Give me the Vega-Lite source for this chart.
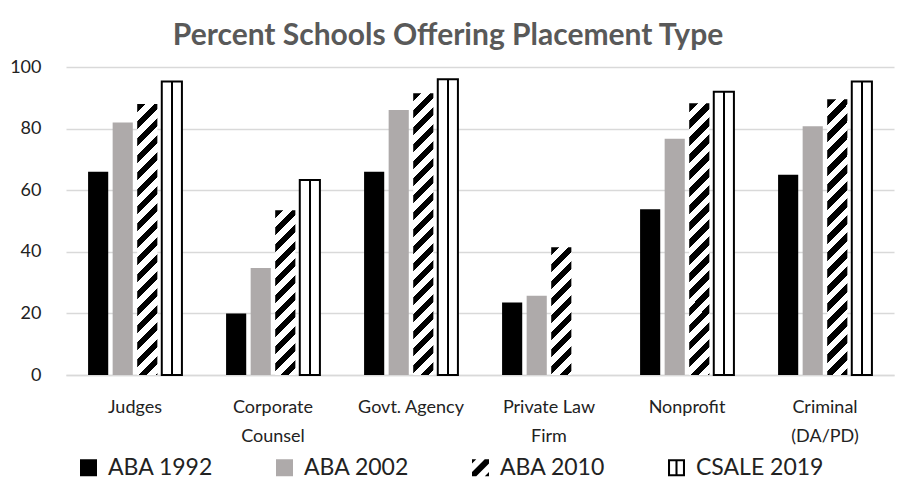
{
  "$schema": "https://vega.github.io/schema/vega-lite/v6.json",
  "width": 828,
  "height": 308,
  "autosize": {"type": "none"},
  "padding": {"left": 66, "top": 67, "right": 3, "bottom": 113},
  "background": "white",
  "config": {"view": {"stroke": null}, "font": "Lato"},
  "title": {"text": "Percent Schools Offering Placement Type", "font": "Lato", "fontSize": 30, "fontWeight": "bold", "color": "#595959", "anchor": "middle", "dx": -32, "offset": 7},
  "data": {"values": [
    {"cat": "Judges", "series": "ABA 1992", "v": 66},
    {"cat": "Judges", "series": "ABA 2002", "v": 82},
    {"cat": "Judges", "series": "ABA 2010", "v": 88},
    {"cat": "Judges", "series": "CSALE 2019", "v": 95.3},
    {"cat": "Corporate Counsel", "series": "ABA 1992", "v": 20},
    {"cat": "Corporate Counsel", "series": "ABA 2002", "v": 34.7},
    {"cat": "Corporate Counsel", "series": "ABA 2010", "v": 53.5},
    {"cat": "Corporate Counsel", "series": "CSALE 2019", "v": 63.3},
    {"cat": "Govt. Agency", "series": "ABA 1992", "v": 66},
    {"cat": "Govt. Agency", "series": "ABA 2002", "v": 86},
    {"cat": "Govt. Agency", "series": "ABA 2010", "v": 91.5},
    {"cat": "Govt. Agency", "series": "CSALE 2019", "v": 96},
    {"cat": "Private Law Firm", "series": "ABA 1992", "v": 23.5},
    {"cat": "Private Law Firm", "series": "ABA 2002", "v": 25.7},
    {"cat": "Private Law Firm", "series": "ABA 2010", "v": 41.5},
    {"cat": "Nonprofit", "series": "ABA 1992", "v": 53.8},
    {"cat": "Nonprofit", "series": "ABA 2002", "v": 76.7},
    {"cat": "Nonprofit", "series": "ABA 2010", "v": 88.2},
    {"cat": "Nonprofit", "series": "CSALE 2019", "v": 92},
    {"cat": "Criminal (DA/PD)", "series": "ABA 1992", "v": 65},
    {"cat": "Criminal (DA/PD)", "series": "ABA 2002", "v": 80.8},
    {"cat": "Criminal (DA/PD)", "series": "ABA 2010", "v": 89.5},
    {"cat": "Criminal (DA/PD)", "series": "CSALE 2019", "v": 95.3}
  ]},
  "encoding": {
    "x": {"field": "cat", "type": "nominal",
      "sort": ["Judges", "Corporate Counsel", "Govt. Agency", "Private Law Firm", "Nonprofit", "Criminal (DA/PD)"],
      "scale": {"paddingInner": 0.32, "paddingOuter": 0.16},
      "axis": {"title": null, "ticks": false, "domainColor": "#d9d9d9", "domainWidth": 1.3, "labelAngle": 0, "labelFont": "Lato", "labelFontSize": 18, "labelColor": "#222222", "labelPadding": 23, "labelLineHeight": 29,
        "labelExpr": "datum.label == 'Corporate Counsel' ? ['Corporate', 'Counsel'] : datum.label == 'Private Law Firm' ? ['Private Law', 'Firm'] : datum.label == 'Criminal (DA/PD)' ? ['Criminal', '(DA/PD)'] : datum.label"}},
    "xOffset": {"field": "series", "type": "nominal",
      "scale": {"domain": ["ABA 1992", "ABA 2002", "ABA 2010", "CSALE 2019"], "paddingInner": 0.18, "paddingOuter": 0}},
    "y": {"field": "v", "type": "quantitative", "scale": {"domain": [0, 100]},
      "axis": {"title": null, "values": [0, 20, 40, 60, 80, 100], "domain": false, "ticks": false, "gridColor": "#d9d9d9", "gridWidth": 1.3, "labelFont": "Lato", "labelFontSize": 18, "labelColor": "#222222", "labelPadding": 25}}
  },
  "layer": [
    {
      "transform": [{"filter": "datum.series == 'ABA 1992' || datum.series == 'ABA 2002'"}],
      "mark": {"type": "bar"},
      "encoding": {
        "fill": {"field": "series", "type": "nominal",
          "scale": {"domain": ["ABA 1992", "ABA 2002", "ABA 2010", "CSALE 2019"], "range": ["#000000", "#aeaaaa", "#000000", "#000000"]},
          "legend": {"title": null, "orient": "none", "legendX": 11, "legendY": 389, "direction": "horizontal", "columns": 4, "columnPadding": 59, "symbolType": "square", "symbolSize": 289, "symbolStrokeWidth": 0, "labelFont": "Lato", "labelFontSize": 23, "labelColor": "#222222", "labelOffset": 8, "padding": 0,
            "encode": {"symbols": {"update": {
              "shape": [
                {"test": "datum.value === 'ABA 2010'", "value": "M-1,-1L-0.5,-1L-1,-0.5Z M0.5,-1L1,-1L1,-0.5L-0.5,1L-1,1L-1,0.5Z M1,0.5L1,1L0.5,1Z"},
                {"test": "datum.value === 'CSALE 2019'", "value": "M-1,-1L1,-1L1,1L-1,1Z M-0.76,-0.76L-0.76,0.76L-0.12,0.76L-0.12,-0.76Z M0.12,-0.76L0.12,0.76L0.76,0.76L0.76,-0.76Z"},
                {"value": "square"}
              ],
              "fill": [
                {"test": "datum.value === 'ABA 2002'", "value": "#aeaaaa"},
                {"value": "#000000"}
              ],
              "stroke": [{"value": "transparent"}]
            }}}}}
      }
    },
    {
      "transform": [{"filter": "datum.series == 'CSALE 2019'"}],
      "mark": {"type": "bar", "stroke": "#000000", "strokeWidth": 2, "fill": {"gradient": "linear", "x1": 0, "y1": 0, "x2": 1, "y2": 0, "stops": [{"offset": 0, "color": "#fff"}, {"offset": 0.44, "color": "#fff"}, {"offset": 0.44, "color": "#000"}, {"offset": 0.56, "color": "#000"}, {"offset": 0.56, "color": "#fff"}, {"offset": 1, "color": "#fff"}]}}
    },
    {
      "transform": [{"filter": {"and": [{"field": "series", "equal": "ABA 2010"}, {"field": "cat", "equal": "Judges"}]}}],
      "mark": {"type": "bar", "fill": {"gradient": "linear", "x1": 0, "y1": 0, "x2": 0.08368, "y2": 1.1228, "stops": [{"offset":0,"color":"#000"},{"offset":0.02778,"color":"#000"},{"offset":0.02778,"color":"#fff"},{"offset":0.05556,"color":"#fff"},{"offset":0.05556,"color":"#000"},{"offset":0.08333,"color":"#000"},{"offset":0.08333,"color":"#fff"},{"offset":0.11111,"color":"#fff"},{"offset":0.11111,"color":"#000"},{"offset":0.13889,"color":"#000"},{"offset":0.13889,"color":"#fff"},{"offset":0.16667,"color":"#fff"},{"offset":0.16667,"color":"#000"},{"offset":0.19444,"color":"#000"},{"offset":0.19444,"color":"#fff"},{"offset":0.22222,"color":"#fff"},{"offset":0.22222,"color":"#000"},{"offset":0.25,"color":"#000"},{"offset":0.25,"color":"#fff"},{"offset":0.27778,"color":"#fff"},{"offset":0.27778,"color":"#000"},{"offset":0.30556,"color":"#000"},{"offset":0.30556,"color":"#fff"},{"offset":0.33333,"color":"#fff"},{"offset":0.33333,"color":"#000"},{"offset":0.36111,"color":"#000"},{"offset":0.36111,"color":"#fff"},{"offset":0.38889,"color":"#fff"},{"offset":0.38889,"color":"#000"},{"offset":0.41667,"color":"#000"},{"offset":0.41667,"color":"#fff"},{"offset":0.44444,"color":"#fff"},{"offset":0.44444,"color":"#000"},{"offset":0.47222,"color":"#000"},{"offset":0.47222,"color":"#fff"},{"offset":0.5,"color":"#fff"},{"offset":0.5,"color":"#000"},{"offset":0.52778,"color":"#000"},{"offset":0.52778,"color":"#fff"},{"offset":0.55556,"color":"#fff"},{"offset":0.55556,"color":"#000"},{"offset":0.58333,"color":"#000"},{"offset":0.58333,"color":"#fff"},{"offset":0.61111,"color":"#fff"},{"offset":0.61111,"color":"#000"},{"offset":0.63889,"color":"#000"},{"offset":0.63889,"color":"#fff"},{"offset":0.66667,"color":"#fff"},{"offset":0.66667,"color":"#000"},{"offset":0.69444,"color":"#000"},{"offset":0.69444,"color":"#fff"},{"offset":0.72222,"color":"#fff"},{"offset":0.72222,"color":"#000"},{"offset":0.75,"color":"#000"},{"offset":0.75,"color":"#fff"},{"offset":0.77778,"color":"#fff"},{"offset":0.77778,"color":"#000"},{"offset":0.80556,"color":"#000"},{"offset":0.80556,"color":"#fff"},{"offset":0.83333,"color":"#fff"},{"offset":0.83333,"color":"#000"},{"offset":0.86111,"color":"#000"},{"offset":0.86111,"color":"#fff"},{"offset":0.88889,"color":"#fff"},{"offset":0.88889,"color":"#000"},{"offset":0.91667,"color":"#000"},{"offset":0.91667,"color":"#fff"},{"offset":0.94444,"color":"#fff"},{"offset":0.94444,"color":"#000"},{"offset":0.97222,"color":"#000"},{"offset":0.97222,"color":"#fff"},{"offset":1,"color":"#fff"}]}}
    },
    {
      "transform": [{"filter": {"and": [{"field": "series", "equal": "ABA 2010"}, {"field": "cat", "equal": "Corporate Counsel"}]}}],
      "mark": {"type": "bar", "fill": {"gradient": "linear", "x1": 0, "y1": 0, "x2": 0.22429, "y2": 1.8296, "stops": [{"offset":0,"color":"#000"},{"offset":0.02778,"color":"#000"},{"offset":0.02778,"color":"#fff"},{"offset":0.05556,"color":"#fff"},{"offset":0.05556,"color":"#000"},{"offset":0.08333,"color":"#000"},{"offset":0.08333,"color":"#fff"},{"offset":0.11111,"color":"#fff"},{"offset":0.11111,"color":"#000"},{"offset":0.13889,"color":"#000"},{"offset":0.13889,"color":"#fff"},{"offset":0.16667,"color":"#fff"},{"offset":0.16667,"color":"#000"},{"offset":0.19444,"color":"#000"},{"offset":0.19444,"color":"#fff"},{"offset":0.22222,"color":"#fff"},{"offset":0.22222,"color":"#000"},{"offset":0.25,"color":"#000"},{"offset":0.25,"color":"#fff"},{"offset":0.27778,"color":"#fff"},{"offset":0.27778,"color":"#000"},{"offset":0.30556,"color":"#000"},{"offset":0.30556,"color":"#fff"},{"offset":0.33333,"color":"#fff"},{"offset":0.33333,"color":"#000"},{"offset":0.36111,"color":"#000"},{"offset":0.36111,"color":"#fff"},{"offset":0.38889,"color":"#fff"},{"offset":0.38889,"color":"#000"},{"offset":0.41667,"color":"#000"},{"offset":0.41667,"color":"#fff"},{"offset":0.44444,"color":"#fff"},{"offset":0.44444,"color":"#000"},{"offset":0.47222,"color":"#000"},{"offset":0.47222,"color":"#fff"},{"offset":0.5,"color":"#fff"},{"offset":0.5,"color":"#000"},{"offset":0.52778,"color":"#000"},{"offset":0.52778,"color":"#fff"},{"offset":0.55556,"color":"#fff"},{"offset":0.55556,"color":"#000"},{"offset":0.58333,"color":"#000"},{"offset":0.58333,"color":"#fff"},{"offset":0.61111,"color":"#fff"},{"offset":0.61111,"color":"#000"},{"offset":0.63889,"color":"#000"},{"offset":0.63889,"color":"#fff"},{"offset":0.66667,"color":"#fff"},{"offset":0.66667,"color":"#000"},{"offset":0.69444,"color":"#000"},{"offset":0.69444,"color":"#fff"},{"offset":0.72222,"color":"#fff"},{"offset":0.72222,"color":"#000"},{"offset":0.75,"color":"#000"},{"offset":0.75,"color":"#fff"},{"offset":0.77778,"color":"#fff"},{"offset":0.77778,"color":"#000"},{"offset":0.80556,"color":"#000"},{"offset":0.80556,"color":"#fff"},{"offset":0.83333,"color":"#fff"},{"offset":0.83333,"color":"#000"},{"offset":0.86111,"color":"#000"},{"offset":0.86111,"color":"#fff"},{"offset":0.88889,"color":"#fff"},{"offset":0.88889,"color":"#000"},{"offset":0.91667,"color":"#000"},{"offset":0.91667,"color":"#fff"},{"offset":0.94444,"color":"#fff"},{"offset":0.94444,"color":"#000"},{"offset":0.97222,"color":"#000"},{"offset":0.97222,"color":"#fff"},{"offset":1,"color":"#fff"}]}}
    },
    {
      "transform": [{"filter": {"and": [{"field": "series", "equal": "ABA 2010"}, {"field": "cat", "equal": "Govt. Agency"}]}}],
      "mark": {"type": "bar", "fill": {"gradient": "linear", "x1": 0, "y1": 0, "x2": 0.07743, "y2": 1.0802, "stops": [{"offset":0,"color":"#000"},{"offset":0.02778,"color":"#000"},{"offset":0.02778,"color":"#fff"},{"offset":0.05556,"color":"#fff"},{"offset":0.05556,"color":"#000"},{"offset":0.08333,"color":"#000"},{"offset":0.08333,"color":"#fff"},{"offset":0.11111,"color":"#fff"},{"offset":0.11111,"color":"#000"},{"offset":0.13889,"color":"#000"},{"offset":0.13889,"color":"#fff"},{"offset":0.16667,"color":"#fff"},{"offset":0.16667,"color":"#000"},{"offset":0.19444,"color":"#000"},{"offset":0.19444,"color":"#fff"},{"offset":0.22222,"color":"#fff"},{"offset":0.22222,"color":"#000"},{"offset":0.25,"color":"#000"},{"offset":0.25,"color":"#fff"},{"offset":0.27778,"color":"#fff"},{"offset":0.27778,"color":"#000"},{"offset":0.30556,"color":"#000"},{"offset":0.30556,"color":"#fff"},{"offset":0.33333,"color":"#fff"},{"offset":0.33333,"color":"#000"},{"offset":0.36111,"color":"#000"},{"offset":0.36111,"color":"#fff"},{"offset":0.38889,"color":"#fff"},{"offset":0.38889,"color":"#000"},{"offset":0.41667,"color":"#000"},{"offset":0.41667,"color":"#fff"},{"offset":0.44444,"color":"#fff"},{"offset":0.44444,"color":"#000"},{"offset":0.47222,"color":"#000"},{"offset":0.47222,"color":"#fff"},{"offset":0.5,"color":"#fff"},{"offset":0.5,"color":"#000"},{"offset":0.52778,"color":"#000"},{"offset":0.52778,"color":"#fff"},{"offset":0.55556,"color":"#fff"},{"offset":0.55556,"color":"#000"},{"offset":0.58333,"color":"#000"},{"offset":0.58333,"color":"#fff"},{"offset":0.61111,"color":"#fff"},{"offset":0.61111,"color":"#000"},{"offset":0.63889,"color":"#000"},{"offset":0.63889,"color":"#fff"},{"offset":0.66667,"color":"#fff"},{"offset":0.66667,"color":"#000"},{"offset":0.69444,"color":"#000"},{"offset":0.69444,"color":"#fff"},{"offset":0.72222,"color":"#fff"},{"offset":0.72222,"color":"#000"},{"offset":0.75,"color":"#000"},{"offset":0.75,"color":"#fff"},{"offset":0.77778,"color":"#fff"},{"offset":0.77778,"color":"#000"},{"offset":0.80556,"color":"#000"},{"offset":0.80556,"color":"#fff"},{"offset":0.83333,"color":"#fff"},{"offset":0.83333,"color":"#000"},{"offset":0.86111,"color":"#000"},{"offset":0.86111,"color":"#fff"},{"offset":0.88889,"color":"#fff"},{"offset":0.88889,"color":"#000"},{"offset":0.91667,"color":"#000"},{"offset":0.91667,"color":"#fff"},{"offset":0.94444,"color":"#fff"},{"offset":0.94444,"color":"#000"},{"offset":0.97222,"color":"#000"},{"offset":0.97222,"color":"#fff"},{"offset":1,"color":"#fff"}]}}
    },
    {
      "transform": [{"filter": {"and": [{"field": "series", "equal": "ABA 2010"}, {"field": "cat", "equal": "Private Law Firm"}]}}],
      "mark": {"type": "bar", "fill": {"gradient": "linear", "x1": 0, "y1": 0, "x2": 0.36912, "y2": 2.3358, "stops": [{"offset":0,"color":"#000"},{"offset":0.02778,"color":"#000"},{"offset":0.02778,"color":"#fff"},{"offset":0.05556,"color":"#fff"},{"offset":0.05556,"color":"#000"},{"offset":0.08333,"color":"#000"},{"offset":0.08333,"color":"#fff"},{"offset":0.11111,"color":"#fff"},{"offset":0.11111,"color":"#000"},{"offset":0.13889,"color":"#000"},{"offset":0.13889,"color":"#fff"},{"offset":0.16667,"color":"#fff"},{"offset":0.16667,"color":"#000"},{"offset":0.19444,"color":"#000"},{"offset":0.19444,"color":"#fff"},{"offset":0.22222,"color":"#fff"},{"offset":0.22222,"color":"#000"},{"offset":0.25,"color":"#000"},{"offset":0.25,"color":"#fff"},{"offset":0.27778,"color":"#fff"},{"offset":0.27778,"color":"#000"},{"offset":0.30556,"color":"#000"},{"offset":0.30556,"color":"#fff"},{"offset":0.33333,"color":"#fff"},{"offset":0.33333,"color":"#000"},{"offset":0.36111,"color":"#000"},{"offset":0.36111,"color":"#fff"},{"offset":0.38889,"color":"#fff"},{"offset":0.38889,"color":"#000"},{"offset":0.41667,"color":"#000"},{"offset":0.41667,"color":"#fff"},{"offset":0.44444,"color":"#fff"},{"offset":0.44444,"color":"#000"},{"offset":0.47222,"color":"#000"},{"offset":0.47222,"color":"#fff"},{"offset":0.5,"color":"#fff"},{"offset":0.5,"color":"#000"},{"offset":0.52778,"color":"#000"},{"offset":0.52778,"color":"#fff"},{"offset":0.55556,"color":"#fff"},{"offset":0.55556,"color":"#000"},{"offset":0.58333,"color":"#000"},{"offset":0.58333,"color":"#fff"},{"offset":0.61111,"color":"#fff"},{"offset":0.61111,"color":"#000"},{"offset":0.63889,"color":"#000"},{"offset":0.63889,"color":"#fff"},{"offset":0.66667,"color":"#fff"},{"offset":0.66667,"color":"#000"},{"offset":0.69444,"color":"#000"},{"offset":0.69444,"color":"#fff"},{"offset":0.72222,"color":"#fff"},{"offset":0.72222,"color":"#000"},{"offset":0.75,"color":"#000"},{"offset":0.75,"color":"#fff"},{"offset":0.77778,"color":"#fff"},{"offset":0.77778,"color":"#000"},{"offset":0.80556,"color":"#000"},{"offset":0.80556,"color":"#fff"},{"offset":0.83333,"color":"#fff"},{"offset":0.83333,"color":"#000"},{"offset":0.86111,"color":"#000"},{"offset":0.86111,"color":"#fff"},{"offset":0.88889,"color":"#fff"},{"offset":0.88889,"color":"#000"},{"offset":0.91667,"color":"#000"},{"offset":0.91667,"color":"#fff"},{"offset":0.94444,"color":"#fff"},{"offset":0.94444,"color":"#000"},{"offset":0.97222,"color":"#000"},{"offset":0.97222,"color":"#fff"},{"offset":1,"color":"#fff"}]}}
    },
    {
      "transform": [{"filter": {"and": [{"field": "series", "equal": "ABA 2010"}, {"field": "cat", "equal": "Nonprofit"}]}}],
      "mark": {"type": "bar", "fill": {"gradient": "linear", "x1": 0, "y1": 0, "x2": 0.08368, "y2": 1.1228, "stops": [{"offset":0,"color":"#000"},{"offset":0.02778,"color":"#000"},{"offset":0.02778,"color":"#fff"},{"offset":0.05556,"color":"#fff"},{"offset":0.05556,"color":"#000"},{"offset":0.08333,"color":"#000"},{"offset":0.08333,"color":"#fff"},{"offset":0.11111,"color":"#fff"},{"offset":0.11111,"color":"#000"},{"offset":0.13889,"color":"#000"},{"offset":0.13889,"color":"#fff"},{"offset":0.16667,"color":"#fff"},{"offset":0.16667,"color":"#000"},{"offset":0.19444,"color":"#000"},{"offset":0.19444,"color":"#fff"},{"offset":0.22222,"color":"#fff"},{"offset":0.22222,"color":"#000"},{"offset":0.25,"color":"#000"},{"offset":0.25,"color":"#fff"},{"offset":0.27778,"color":"#fff"},{"offset":0.27778,"color":"#000"},{"offset":0.30556,"color":"#000"},{"offset":0.30556,"color":"#fff"},{"offset":0.33333,"color":"#fff"},{"offset":0.33333,"color":"#000"},{"offset":0.36111,"color":"#000"},{"offset":0.36111,"color":"#fff"},{"offset":0.38889,"color":"#fff"},{"offset":0.38889,"color":"#000"},{"offset":0.41667,"color":"#000"},{"offset":0.41667,"color":"#fff"},{"offset":0.44444,"color":"#fff"},{"offset":0.44444,"color":"#000"},{"offset":0.47222,"color":"#000"},{"offset":0.47222,"color":"#fff"},{"offset":0.5,"color":"#fff"},{"offset":0.5,"color":"#000"},{"offset":0.52778,"color":"#000"},{"offset":0.52778,"color":"#fff"},{"offset":0.55556,"color":"#fff"},{"offset":0.55556,"color":"#000"},{"offset":0.58333,"color":"#000"},{"offset":0.58333,"color":"#fff"},{"offset":0.61111,"color":"#fff"},{"offset":0.61111,"color":"#000"},{"offset":0.63889,"color":"#000"},{"offset":0.63889,"color":"#fff"},{"offset":0.66667,"color":"#fff"},{"offset":0.66667,"color":"#000"},{"offset":0.69444,"color":"#000"},{"offset":0.69444,"color":"#fff"},{"offset":0.72222,"color":"#fff"},{"offset":0.72222,"color":"#000"},{"offset":0.75,"color":"#000"},{"offset":0.75,"color":"#fff"},{"offset":0.77778,"color":"#fff"},{"offset":0.77778,"color":"#000"},{"offset":0.80556,"color":"#000"},{"offset":0.80556,"color":"#fff"},{"offset":0.83333,"color":"#fff"},{"offset":0.83333,"color":"#000"},{"offset":0.86111,"color":"#000"},{"offset":0.86111,"color":"#fff"},{"offset":0.88889,"color":"#fff"},{"offset":0.88889,"color":"#000"},{"offset":0.91667,"color":"#000"},{"offset":0.91667,"color":"#fff"},{"offset":0.94444,"color":"#fff"},{"offset":0.94444,"color":"#000"},{"offset":0.97222,"color":"#000"},{"offset":0.97222,"color":"#fff"},{"offset":1,"color":"#fff"}]}}
    },
    {
      "transform": [{"filter": {"and": [{"field": "series", "equal": "ABA 2010"}, {"field": "cat", "equal": "Criminal (DA/PD)"}]}}],
      "mark": {"type": "bar", "fill": {"gradient": "linear", "x1": 0, "y1": 0, "x2": 0.08091, "y2": 1.1042, "stops": [{"offset":0,"color":"#000"},{"offset":0.02778,"color":"#000"},{"offset":0.02778,"color":"#fff"},{"offset":0.05556,"color":"#fff"},{"offset":0.05556,"color":"#000"},{"offset":0.08333,"color":"#000"},{"offset":0.08333,"color":"#fff"},{"offset":0.11111,"color":"#fff"},{"offset":0.11111,"color":"#000"},{"offset":0.13889,"color":"#000"},{"offset":0.13889,"color":"#fff"},{"offset":0.16667,"color":"#fff"},{"offset":0.16667,"color":"#000"},{"offset":0.19444,"color":"#000"},{"offset":0.19444,"color":"#fff"},{"offset":0.22222,"color":"#fff"},{"offset":0.22222,"color":"#000"},{"offset":0.25,"color":"#000"},{"offset":0.25,"color":"#fff"},{"offset":0.27778,"color":"#fff"},{"offset":0.27778,"color":"#000"},{"offset":0.30556,"color":"#000"},{"offset":0.30556,"color":"#fff"},{"offset":0.33333,"color":"#fff"},{"offset":0.33333,"color":"#000"},{"offset":0.36111,"color":"#000"},{"offset":0.36111,"color":"#fff"},{"offset":0.38889,"color":"#fff"},{"offset":0.38889,"color":"#000"},{"offset":0.41667,"color":"#000"},{"offset":0.41667,"color":"#fff"},{"offset":0.44444,"color":"#fff"},{"offset":0.44444,"color":"#000"},{"offset":0.47222,"color":"#000"},{"offset":0.47222,"color":"#fff"},{"offset":0.5,"color":"#fff"},{"offset":0.5,"color":"#000"},{"offset":0.52778,"color":"#000"},{"offset":0.52778,"color":"#fff"},{"offset":0.55556,"color":"#fff"},{"offset":0.55556,"color":"#000"},{"offset":0.58333,"color":"#000"},{"offset":0.58333,"color":"#fff"},{"offset":0.61111,"color":"#fff"},{"offset":0.61111,"color":"#000"},{"offset":0.63889,"color":"#000"},{"offset":0.63889,"color":"#fff"},{"offset":0.66667,"color":"#fff"},{"offset":0.66667,"color":"#000"},{"offset":0.69444,"color":"#000"},{"offset":0.69444,"color":"#fff"},{"offset":0.72222,"color":"#fff"},{"offset":0.72222,"color":"#000"},{"offset":0.75,"color":"#000"},{"offset":0.75,"color":"#fff"},{"offset":0.77778,"color":"#fff"},{"offset":0.77778,"color":"#000"},{"offset":0.80556,"color":"#000"},{"offset":0.80556,"color":"#fff"},{"offset":0.83333,"color":"#fff"},{"offset":0.83333,"color":"#000"},{"offset":0.86111,"color":"#000"},{"offset":0.86111,"color":"#fff"},{"offset":0.88889,"color":"#fff"},{"offset":0.88889,"color":"#000"},{"offset":0.91667,"color":"#000"},{"offset":0.91667,"color":"#fff"},{"offset":0.94444,"color":"#fff"},{"offset":0.94444,"color":"#000"},{"offset":0.97222,"color":"#000"},{"offset":0.97222,"color":"#fff"},{"offset":1,"color":"#fff"}]}}
    }
  ]
}
